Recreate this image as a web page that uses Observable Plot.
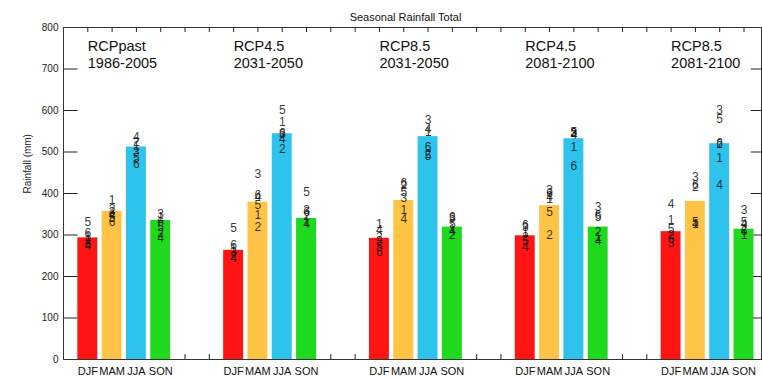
<!DOCTYPE html>
<html>
<head>
<meta charset="utf-8">
<script src="https://cdn.jsdelivr.net/npm/d3@7"></script>
<script src="https://cdn.jsdelivr.net/npm/@observablehq/plot@0.6"></script>
<style>
  html, body { margin: 0; padding: 0; background: #fff; }
  #chart svg { display: block; }
</style>
</head>
<body>
<div id="chart"></div>
<script>
// ---- data ----
const seasons = ["DJF", "MAM", "JJA", "SON"];
const scenarios = ["RCPpast", "RCP4.5", "RCP8.5", "RCP4.5", "RCP8.5"];
const periods = ["1986-2005", "2031-2050", "2031-2050", "2081-2100", "2081-2100"];
const seasonColors = ["#ff1414", "#ffc446", "#2ec3ec", "#1fd91f"];
const yTicks = [0, 100, 200, 300, 400, 500, 600, 700, 800];
const modelIds = [1, 2, 3, 4, 5, 6];

// ensemble mean per scenario (one array per season)
const meanDJF = [293, 263, 292, 298, 308];
const meanMAM = [357, 379, 383, 371, 381];
const meanJJA = [512, 544, 537, 532, 520];
const meanSON = [335, 340, 319, 319, 314];

// individual model values (models 1..6) per scenario
const modelsDJF = [
  [296, 288, 280, 272, 331, 305],
  [266, 250, 258, 244, 316, 275],
  [327, 296, 285, 311, 270, 258],
  [307, 295, 320, 270, 285, 323],
  [335, 300, 280, 375, 315, 290]
];
const modelsMAM = [
  [383, 362, 355, 348, 340, 330],
  [347, 319, 447, 392, 371, 397],
  [359, 420, 388, 339, 403, 425],
  [387, 299, 407, 392, 355, 402],
  [325, 415, 439, 327, 330, 419]
];
const modelsJJA = [
  [513, 524, 500, 536, 486, 470],
  [572, 508, 542, 530, 600, 546],
  [548, 495, 576, 556, 490, 512],
  [512, 546, 545, 540, 548, 467],
  [484, 518, 600, 419, 580, 522]
];
const modelsSON = [
  [342, 305, 350, 292, 318, 330],
  [332, 345, 360, 325, 403, 355],
  [315, 299, 340, 310, 327, 343],
  [295, 307, 367, 285, 343, 347],
  [299, 315, 359, 327, 330, 310]
];

// ---- build tables ----
const means = [meanDJF, meanMAM, meanJJA, meanSON];
const models = [modelsDJF, modelsMAM, modelsJJA, modelsSON];
const slotsPerGroup = 6;
const slotOf = (g, s) => g * slotsPerGroup + s + 1;

const bars = [];
const points = [];
scenarios.forEach((sc, g) => {
  seasons.forEach((se, s) => {
    bars.push({slot: slotOf(g, s), season: se, value: means[s][g]});
    models[s][g].forEach((v, m) => {
      points.push({slot: slotOf(g, s), model: String(modelIds[m]), value: v});
    });
  });
});
const groupLabels = scenarios.map((sc, g) => ({slot: slotOf(g, 0), text: sc + "\n" + periods[g]}));
const allSlots = d3.range(1, scenarios.length * slotsPerGroup - 1);
const halfBar = 0.41;

const W = 762, H = 379;
const font = "Liberation Sans, Arial, Helvetica, sans-serif";
const xMax = 28.72;
const yTickLenL = 0.6, yTickLenR = 0.42;   // in x units (~14px, ~10px)
const xTickLen = 12;                        // in y units (~5px)

const chart = Plot.plot({
  width: W,
  height: H,
  marginLeft: 63,
  marginRight: 1,
  marginTop: 27,
  marginBottom: 20,
  style: {fontFamily: font, background: "#fff", color: "#222"},
  x: {domain: [0, xMax], axis: null},
  y: {domain: [0, 800], axis: null},
  marks: [
    Plot.axisY(yTicks, {anchor: "left", label: null, tickSize: 0, tickPadding: 5, fontSize: 10, fill: "#222"}),
    // inward ticks
    Plot.ruleY(yTicks, {y: d => d, x1: 0, x2: yTickLenL, stroke: "#222", strokeWidth: 1}),
    Plot.ruleY(yTicks, {y: d => d, x1: xMax - yTickLenR, x2: xMax, stroke: "#222", strokeWidth: 1}),
    Plot.ruleX(allSlots, {x: d => d, y1: 800, y2: 800 - xTickLen, stroke: "#222", strokeWidth: 1}),
    Plot.ruleX(allSlots, {x: d => d, y1: 0, y2: xTickLen, stroke: "#222", strokeWidth: 1}),
    Plot.frame({stroke: "#333", strokeWidth: 1}),
    // bars
    Plot.rectY(bars, {
      x1: d => d.slot - halfBar,
      x2: d => d.slot + halfBar,
      y1: 0,
      y2: "value",
      fill: d => seasonColors[seasons.indexOf(d.season)]
    }),
    // model digits
    Plot.text(points, {
      x: "slot", y: "value", text: "model",
      fontSize: 12, fill: "#111", fillOpacity: 0.85
    }),
    // season labels
    Plot.text(bars, {
      x: "slot", y: 0, text: "season",
      dy: 12, fontSize: 11, fill: "#111"
    }),
    // group labels
    Plot.text(groupLabels, {
      x: "slot", y: 800, text: "text",
      textAnchor: "start", lineAnchor: "top", dy: 12,
      fontSize: 14.5, lineHeight: 1.15, fill: "#111"
    }),
    // y axis title
    Plot.text(["Rainfall (mm)"], {
      frameAnchor: "left", rotate: -90, dx: -36,
      fontSize: 10, fill: "#222"
    }),
    // chart title
    Plot.text(["Seasonal Rainfall Total"], {
      frameAnchor: "top", dy: -14, dx: -7,
      fontSize: 11, fill: "#111"
    })
  ]
});
document.getElementById("chart").appendChild(chart);
</script>
</body>
</html>
